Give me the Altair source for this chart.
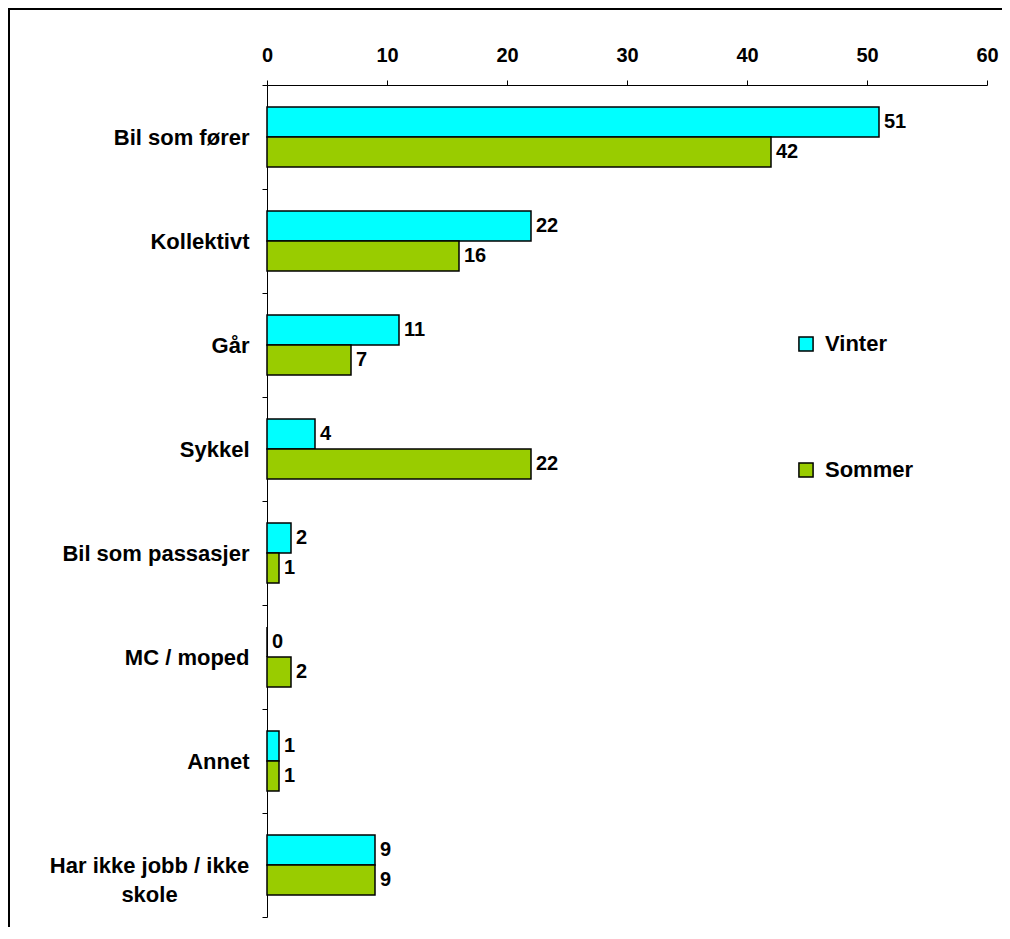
import altair as alt
import pandas as pd

categories = ["Bil som fører", "Kollektivt", "Går", "Sykkel", "Bil som passasjer",
              "MC / moped", "Annet", "Har ikke jobb / ikke skole"]
vinter = [51, 22, 11, 4, 2, 0, 1, 9]
sommer = [42, 16, 7, 22, 1, 2, 1, 9]
series = ["Vinter", "Sommer"]
colors = ["#00FFFF", "#99CC00"]
x_ticks = [0, 10, 20, 30, 40, 50, 60]

rows = []
for c, v, s in zip(categories, vinter, sommer):
    rows.append({"cat": c, "series": "Vinter", "value": v})
    rows.append({"cat": c, "series": "Sommer", "value": s})
df = pd.DataFrame(rows)

FONT = "Liberation Sans"
FS_NUM = 20
FS_CAT = 22
LONG = "datum.value == 'Har ikke jobb / ikke skole'"

y_enc = alt.Y("cat:N", sort=categories,
              scale=alt.Scale(paddingInner=0, paddingOuter=0),
              axis=alt.Axis(title=None, tickBand="extent", ticks=True, tickSize=5,
                            tickColor="black", domainColor="black", domainWidth=1,
                            labelFont=FONT, labelFontSize=FS_CAT, labelFontWeight="bold",
                            labelColor="black", labelLimit=400, labelLineHeight=29,
                            labelAlign={"condition": {"test": LONG, "value": "center"}, "value": "right"},
                            labelPadding={"condition": {"test": LONG, "value": 113}, "value": 13},
                            labelExpr=LONG + " ? ['Har ikke jobb / ikke', 'skole'] : datum.value"))
yoff_scale = alt.Scale(paddingInner=0, paddingOuter=0.733)

x_enc = alt.X("value:Q", scale=alt.Scale(domain=[0, 60], nice=False),
              axis=alt.Axis(orient="top", title=None, values=x_ticks, grid=False,
                            tickSize=5, tickColor="black", domainColor="black",
                            labelFont=FONT, labelFontSize=FS_NUM, labelFontWeight="bold",
                            labelColor="black", labelPadding=15, labelFlush=False))

bars = alt.Chart(df).mark_bar(stroke="black", strokeWidth=1.5).encode(
    x=x_enc, y=y_enc,
    yOffset=alt.YOffset("series:N", sort=series, scale=yoff_scale),
    color=alt.Color("series:N", sort=series,
                    scale=alt.Scale(domain=series, range=colors),
                    legend=alt.Legend(title=None, orient="none", legendX=528, legendY=248,
                                      symbolType="square", symbolSize=200,
                                      symbolStrokeColor="black", symbolStrokeWidth=1.5,
                                      labelFont=FONT, labelFontSize=FS_CAT, labelFontWeight="bold",
                                      labelColor="black", rowPadding=104, labelOffset=8)),
)

labels = alt.Chart(df).mark_text(align="left", baseline="middle", dx=5,
                                 font=FONT, fontSize=FS_NUM, fontWeight="bold", color="black").encode(
    x="value:Q", y=alt.Y("cat:N", sort=categories),
    yOffset=alt.YOffset("series:N", sort=series, scale=yoff_scale),
    text="value:Q",
)

frame = alt.Chart(pd.DataFrame({"a": [0]})).mark_rect(
    fill=None, stroke="black", strokeWidth=2, clip=False
).encode(x=alt.value(-258), x2=alt.value(760), y=alt.value(-76), y2=alt.value(900))

chart = alt.layer(frame, bars, labels).properties(
    width=720, height=832,
    autosize=alt.AutoSizeParams(type="none"),
    padding={"left": 259, "top": 77, "right": 15, "bottom": 10},
).configure_view(stroke=None)

chart.save("out.html", embed_options={"renderer": "svg", "actions": False})
